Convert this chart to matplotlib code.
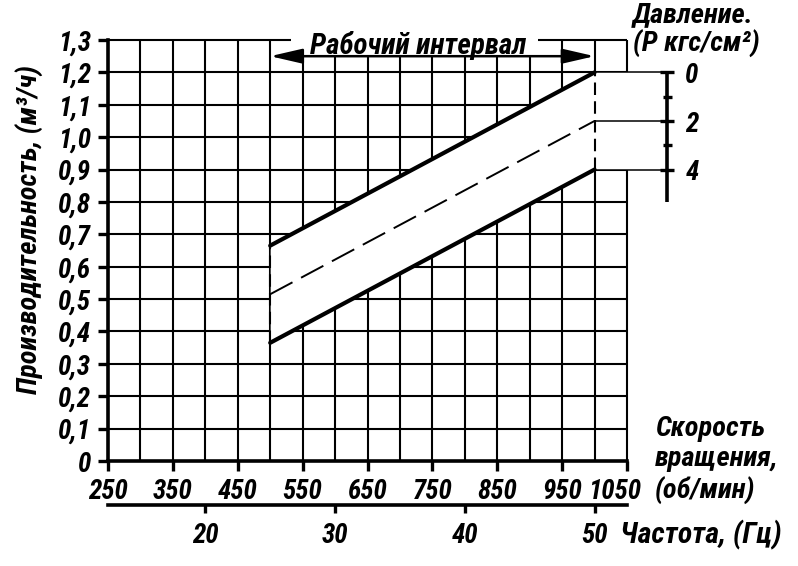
import numpy as np
import matplotlib.pyplot as plt
import matplotlib.transforms as mtransforms
from matplotlib import font_manager

# ----------------------------
# Data
# ----------------------------
work_rpm = [500, 1000]                 # working interval, об/мин
flow_p0 = [0.665, 1.2]                 # P = 0 кгс/см2
flow_p2 = [0.515, 1.05]                # P = 2 кгс/см2
flow_p4 = [0.365, 0.9]                 # P = 4 кгс/см2
pressure_labels = ["0", "2", "4"]
pressure_flow = [flow_p0[1], flow_p2[1], flow_p4[1]]

rpm_ticks = [250, 350, 450, 550, 650, 750, 850, 950, 1050]
flow_ticks = [0, 0.1, 0.2, 0.3, 0.4, 0.5, 0.6, 0.7, 0.8, 0.9, 1.0, 1.1, 1.2, 1.3]
hz_ticks = [20, 30, 40, 50]
rpm_per_hz = 20

# ----------------------------
# Font: narrow bold italic with cyrillic
# ----------------------------
names = {f.name for f in font_manager.fontManager.ttflist}
fam = "DejaVu Sans"
for cand in ["Roboto Condensed", "PT Sans Narrow", "Liberation Sans Narrow",
             "Open Sans Condensed"]:
    if cand in names:
        fam = cand
        break
plt.rcParams["font.family"] = [fam, "DejaVu Sans"]
plt.rcParams["font.stretch"] = "condensed"
plt.rcParams["font.weight"] = "bold"
plt.rcParams["font.style"] = "italic"
plt.rcParams["font.size"] = 19.5
LBL = 20.5

W, H = 798, 566
def px(x, y):
    return x / W, 1 - y / H

fig = plt.figure(figsize=(W / 100, H / 100), dpi=100)
ax = fig.add_axes([108 / W, 1 - 461 / H, (627 - 108) / W, (461 - 40) / H])
ax.set_xlim(250, 1050)
ax.set_ylim(0, 1.3)

# ----------------------------
# Grid (drawn by hand so parts can be blanked)
# ----------------------------
grid_x = np.arange(300, 1051, 50)
grid_y = np.arange(0.1, 1.31, 0.1)
ax.vlines(grid_x, 0, 1.3, color="black", lw=1.5, zorder=1, clip_on=False)
ax.hlines(grid_y, 250, 1050, color="black", lw=1.5, zorder=1, clip_on=False)

# blank band between P=0 and P=4 lines
ax.fill_between(work_rpm, flow_p4, flow_p0, color="white", zorder=2, lw=0)
ax.fill_between([work_rpm[1], 1056], flow_p4[1], flow_p0[1], color="white",
                zorder=2, lw=0, clip_on=False)
# blank box behind the "working interval" caption
ax.fill_between([532, 913], 1.252, 1.33, color="white", zorder=2, lw=0, clip_on=False)

# ----------------------------
# Curves
# ----------------------------
ax.plot(work_rpm, flow_p0, color="black", lw=3, zorder=4, solid_capstyle="round")
ax.plot(work_rpm, flow_p4, color="black", lw=3, zorder=4, solid_capstyle="round")
ax.plot(work_rpm, flow_p2, color="black", lw=1.4, zorder=4, dashes=(13, 5))
ax.vlines(work_rpm, flow_p4, flow_p0, color="black", lw=1.5, zorder=4,
          linestyles=(0, (6, 3)))

# working interval arrow
ax.annotate("", xy=(work_rpm[0], 1.25), xytext=(work_rpm[1], 1.25),
            arrowprops=dict(arrowstyle="<|-|>,head_length=1.3,head_width=0.3",
                            mutation_scale=15, lw=1.8, color="black",
                            shrinkA=0, shrinkB=0), zorder=5, annotation_clip=False)
fig.text(*px(418, 45), "Рабочий интервал", ha="center", va="center", fontsize=21)

# ----------------------------
# Pressure scale on the right
# ----------------------------
p_x = 1112
ax.hlines(pressure_flow, work_rpm[1], p_x, color="black", lw=1.1, zorder=3, clip_on=False)
ax.plot([p_x, p_x], [pressure_flow[0], 0.8], color="black", lw=2.6, clip_on=False,
        solid_capstyle="butt")
ax.hlines(pressure_flow, p_x - 11, p_x + 11, color="black", lw=2.4, clip_on=False)
minor_p = [(a + b) / 2 for a, b in zip(pressure_flow[:-1], pressure_flow[1:])]
ax.hlines(minor_p, p_x - 7, p_x + 7, color="black", lw=2.4, clip_on=False)
for lab, yv in zip(pressure_labels, pressure_flow):
    ax.text(1150, yv - 0.01, lab, ha="center", va="center", clip_on=False)
fig.text(*px(633, 15), "Давление.", ha="left", va="center", fontsize=LBL)
fig.text(*px(633, 44), "(P кгс/см²)", ha="left", va="center", fontsize=LBL)

# ----------------------------
# Axes, ticks
# ----------------------------
for s in ["top", "right"]:
    ax.spines[s].set_visible(False)
for s in ["left", "bottom"]:
    ax.spines[s].set_linewidth(2.6)
    ax.spines[s].set_zorder(6)
ax.set_xticks(rpm_ticks)
ax.set_xticklabels([str(v) for v in rpm_ticks])
ax.set_yticks(flow_ticks)
ax.set_yticklabels(["0" if v == 0 else f"{v:.1f}".replace(".", ",") for v in flow_ticks])
ax.tick_params(axis="x", direction="out", length=7, width=2.4, pad=5)
ax.tick_params(axis="y", direction="out", length=7, width=2.4, pad=5)
# last rpm label sits a little to the left, clear of the side caption
last = ax.get_xticklabels()[-1]
last.set_transform(last.get_transform() +
                   mtransforms.ScaledTranslation(-12 / 100, 0, fig.dpi_scale_trans))

sec = ax.secondary_xaxis(-44 / 421, functions=(lambda r: r / rpm_per_hz,
                                                  lambda h: h * rpm_per_hz))
sec.set_xticks(hz_ticks)
sec.set_xticklabels([str(v) for v in hz_ticks])
sec.spines["bottom"].set_linewidth(2.6)
sec.tick_params(direction="out", length=6, width=2.4, pad=6)

fig.text(*px(30, 230), "Производительность, (м³/ч)", rotation=90, ha="center",
         va="center", fontsize=LBL)
fig.text(*px(655, 428), "Скорость", ha="left", va="center", fontsize=LBL)
fig.text(*px(655, 459), "вращения,", ha="left", va="center", fontsize=LBL)
fig.text(*px(655, 491), "(об/мин)", ha="left", va="center", fontsize=LBL)
fig.text(*px(620, 535), "Частота, (Гц)", ha="left", va="center", fontsize=21.5)

fig.savefig("out.png", dpi=100, facecolor="white")
